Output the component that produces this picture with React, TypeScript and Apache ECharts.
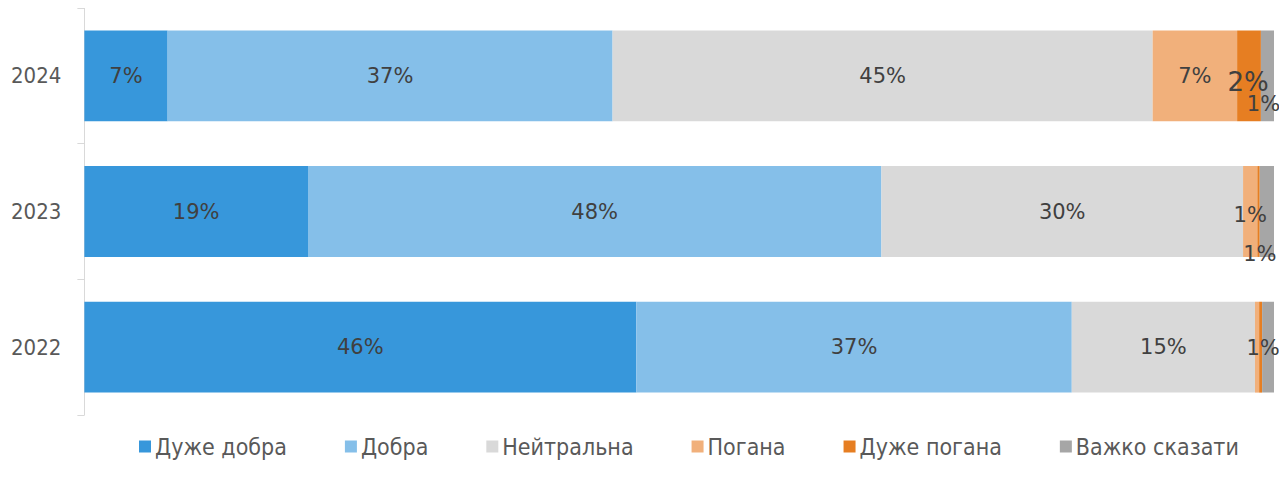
import React, { useEffect, useRef } from "react";
import * as echarts from "echarts";

const years = ["2022", "2023", "2024"];
const seriesNames = ["Дуже добра", "Добра", "Нейтральна", "Погана", "Дуже погана", "Важко сказати"];
const veryGood = [46.4, 18.8, 7.0];
const good = [36.6, 48.2, 37.4];
const neutral = [15.4, 30.4, 45.4];
const bad = [0.35, 1.2, 7.1];
const veryBad = [0.25, 0.2, 2.0];
const hardToSay = [1.0, 1.2, 1.1];
const colors = ["#3797DB", "#85BFE9", "#D9D9D9", "#F1B07B", "#E67E22", "#A6A6A6"];

// label tweaks (series index -> category index -> style)
const labelTweaks: Record<string, any> = {
  "4-2": { offset: [-1, 6], fontSize: 26 },
  "5-2": { offset: [-4, 28] },
  "3-1": { offset: [0, 3] },
  "5-1": { offset: [-7, 42] },
  "5-0": { offset: [-5, 1] },
};

const FONT = "'DejaVu Sans Condensed', 'DejaVu Sans', sans-serif";
const LABEL_FONT = "'DejaVu Sans', sans-serif";

export default function App() {
  const ref = useRef<HTMLDivElement>(null);
  useEffect(() => {
    if (!ref.current) return;
    const chart = echarts.init(ref.current, undefined, { renderer: "svg" });
    const all = [veryGood, good, neutral, bad, veryBad, hardToSay];
    const series = all.map((vals, si) => ({
      name: seriesNames[si],
      type: "bar",
      stack: "total",
      barCategoryGap: "33%",
      itemStyle: { color: colors[si] },
      label: {
        show: true,
        position: "inside",
        color: "#404040",
        fontSize: 21,
        fontFamily: LABEL_FONT,
        formatter: (p: any) => (p.value < 0.9 ? "" : Math.round(p.value) + "%"),
      },
      data: vals.map((v, ci) => {
        const t = labelTweaks[`${si}-${ci}`];
        return t ? { value: v, label: t } : v;
      }),
    }));
    chart.setOption({
      animation: false,
      textStyle: { fontFamily: FONT },
      grid: { left: 70, right: 5, top: 0, bottom: 54 },
      xAxis: { type: "value", min: 0, max: 100, show: false },
      yAxis: {
        type: "category",
        data: years,
        axisLine: { show: true, lineStyle: { color: "#D9D9D9", width: 1 } },
        axisTick: { show: true, length: 7, lineStyle: { color: "#D9D9D9" } },
        axisLabel: { color: "#595959", fontSize: 22, fontFamily: FONT, margin: 23 },
      },
      legend: {
        bottom: 6,
        left: 126,
        icon: "rect",
        itemWidth: 12,
        itemHeight: 12,
        itemGap: 58,
        textStyle: { color: "#595959", fontSize: 23, fontFamily: FONT, padding: [0, 0, 0, -1] },
        data: seriesNames,
      },
      series,
    });
    return () => chart.dispose();
  }, []);
  return <div ref={ref} style={{ width: 1271, height: 461 }} />;
}
